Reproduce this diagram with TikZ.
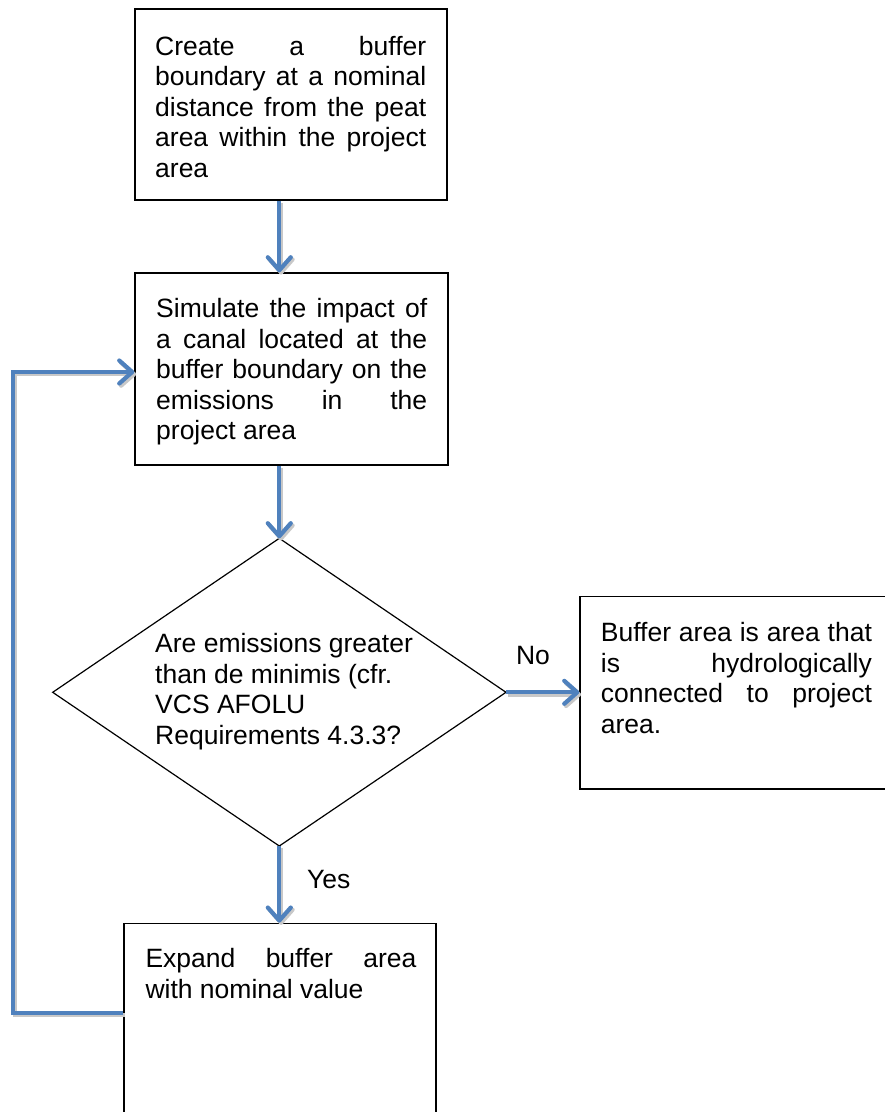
\documentclass[tikz,border=0pt]{standalone}
\usepackage{fontspec}
\setmainfont{Liberation Sans}
\usetikzlibrary{arrows.meta,fit}
\definecolor{flowblue}{RGB}{79,129,189}
\definecolor{shadowgray}{RGB}{200,200,200}
\newcommand{\jl}[1]{\makebox[271pt][s]{#1}}
\newcommand{\fst}{\rule{0pt}{22pt}}
\begin{document}
\begin{tikzpicture}[x=1pt,y=-1pt,
 box/.style={draw=black, line width=1.3pt, inner sep=0pt},
 txt/.style={anchor=north west, inner sep=0pt, align=left, font=\fontsize{26.5pt}{30.5pt}\selectfont},
 lbl/.style={anchor=base, inner sep=0pt, font=\fontsize{26.5pt}{30.5pt}\selectfont},
 flowbase/.style={line width=4.2pt, line join=miter,
   -{Straight Barb[length=13pt,width=23pt,round]}},
 flow/.style={flowbase, draw=flowblue},
 flowshadow/.style={flowbase, draw=shadowgray}]
\useasboundingbox (0,0) rectangle (885,1112);
\clip (0,0) rectangle (885,1112);

% boxes
\node[box, fit={(135,9) (447,200)}] (b1) {};
\node[box, fit={(135,273) (448,465)}] (b2) {};
\node[box, fit={(580,596.5) (895,789)}] (b3) {};
\node[box, fit={(124,923.3) (436,1130)}] (b4) {};

% diamond
\coordinate (dT) at (279.3,538.3);
\coordinate (dR) at (506,692.3);
\coordinate (dB) at (279.3,846);
\coordinate (dL) at (52.7,692.3);
\draw[line width=1.2pt, line join=miter] (dT) -- (dR) -- (dB) -- (dL) -- cycle;

% texts
\node[txt] (t1) at (155,33) {\fst\jl{Create a buffer}\\ \jl{boundary at a nominal}\\ \jl{distance from the peat}\\ \jl{area within the project}\\ area};
\node[txt] (t2) at (156,295.7) {\fst\jl{Simulate the impact of}\\ \jl{a canal located at the}\\ \jl{buffer boundary on the}\\ \jl{emissions in the}\\ project area};
\node[txt] (td) at (155,630.3) {\fst Are emissions greater\\ than de minimis (cfr.\\ VCS AFOLU\\ Requirements 4.3.3?};
\node[txt] (t3) at (600.7,619.7) {\fst\jl{Buffer area is area that}\\ \jl{is hydrologically}\\ \jl{connected to project}\\ area.};
\node[txt] (t4) at (145.3,945.7) {\fst\jl{Expand buffer area}\\ with nominal value};

% labels
\node[lbl] (no) at (533,664) {No};
\node[lbl] (yes) at (328.7,888.3) {Yes};

% connectors
\coordinate (lb) at (13.3,1012.7);
\coordinate (lt) at (13.3,372);
\begin{scope}[transform canvas={shift={(1.8pt,-2.2pt)}}]
\draw[flowshadow] (b1.south -| dT) -- (b2.north -| dT);
\draw[flowshadow] (b2.south -| dT) -- (dT);
\draw[flowshadow] (dR) -- (b3.west |- dR);
\draw[flowshadow] (dB) -- (b4.north -| dB);
\draw[flowshadow] (b4.west |- lb) -- (lb) -- (lt) -- (b2.west |- lt);
\end{scope}
\draw[flow] (b1.south -| dT) -- (b2.north -| dT);
\draw[flow] (b2.south -| dT) -- (dT);
\draw[flow] (dR) -- (b3.west |- dR);
\draw[flow] (dB) -- (b4.north -| dB);
\draw[flow] (b4.west |- lb) -- (lb) -- (lt) -- (b2.west |- lt);
\end{tikzpicture}
\end{document}
